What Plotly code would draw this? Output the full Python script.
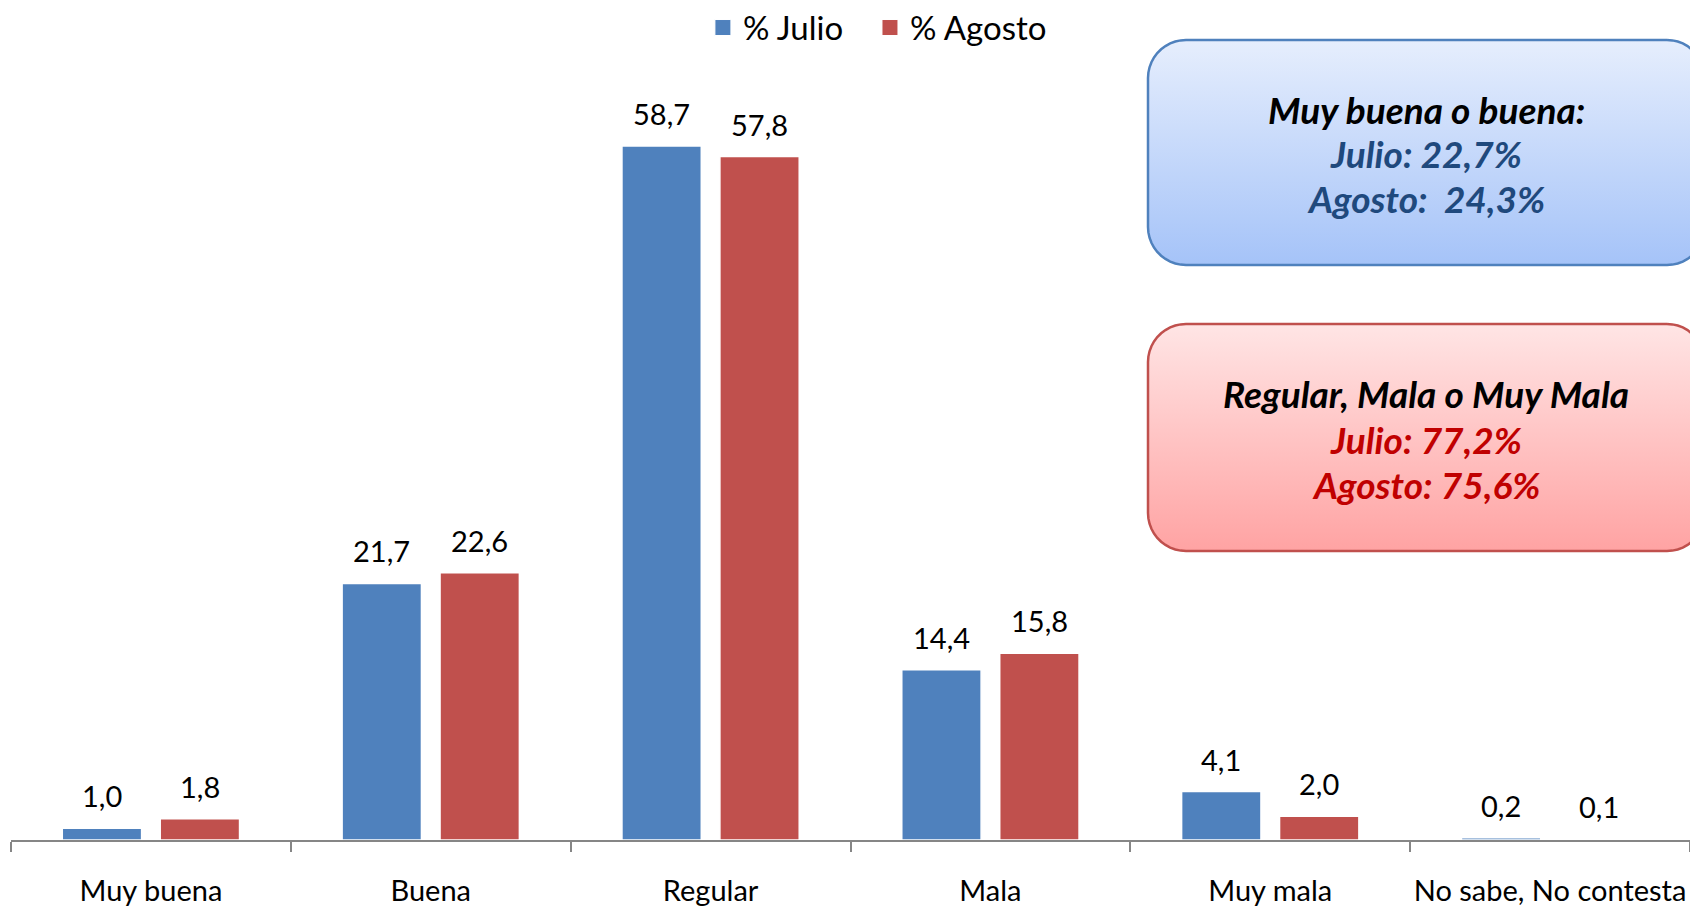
import plotly.graph_objects as go
import numpy as np

# ---------------- data ----------------
categories = ["Muy buena", "Buena", "Regular", "Mala", "Muy mala", "No sabe, No contesta"]
julio = [1.0, 21.7, 58.7, 14.4, 4.1, 0.2]
agosto = [1.8, 22.6, 57.8, 15.8, 2.0, 0.1]
series_names = ["% Julio", "% Agosto"]

box1_lines = ["Muy buena o buena:", "Julio: 22,7%", "Agosto:  24,3%"]
box2_lines = ["Regular, Mala o Muy Mala", "Julio: 77,2%", "Agosto: 75,6%"]

# ---------------- layout constants ----------------
W, H = 1690, 906
ML, MR, MT, MB = 11, 0, 30, 66
YMAX = 68.5
BARGAP = 0.30
GROUPGAP = 0.19
FONT = "Lato"
BLUE = "#4F81BD"
RED = "#C0504D"


def fmt(v):
    return f"{v:.1f}".replace(".", ",")


fig = go.Figure()
fig.add_bar(x=categories, y=julio, name=series_names[0], showlegend=False,
            marker=dict(color=BLUE, line=dict(color="white", width=1.5)))
fig.add_bar(x=categories, y=agosto, name=series_names[1], showlegend=False,
            marker=dict(color=RED, line=dict(color="white", width=1.5)))

# legend proxies (larger square symbols), one legend each for exact spacing
for nm, col, lg in zip(series_names, (BLUE, RED), ("legend", "legend2")):
    fig.add_trace(go.Scatter(x=[None], y=[None], xaxis="x2", yaxis="y2", mode="markers", name=nm,
                             marker=dict(symbol="square", size=18, color=col,
                                         line=dict(color="white", width=1)),
                             showlegend=True, legend=lg, hoverinfo="skip"))

# value labels above bars
cat_w = (W - ML - MR) / len(categories)
slot = cat_w * (1 - BARGAP) / 2
annotations = []
for vals, sgn in ((julio, -1), (agosto, 1)):
    for c, v in zip(categories, vals):
        annotations.append(dict(x=c, y=v, xref="x", yref="y", text=fmt(v),
                                showarrow=False, xshift=sgn * slot / 2, yshift=13,
                                yanchor="bottom", font=dict(family=FONT, size=29, color="black")))


# rounded boxes in pixel space (x2 / y2 axes)
def rounded(x0, y0, x1, y1, r, n=12):
    pts = []
    corners = [(x1 - r, y0 + r, -90, 0), (x1 - r, y1 - r, 0, 90),
               (x0 + r, y1 - r, 90, 180), (x0 + r, y0 + r, 180, 270)]
    for cx, cy, a0, a1 in corners:
        for a in np.linspace(np.radians(a0), np.radians(a1), n):
            pts.append((cx + r * np.cos(a), cy + r * np.sin(a)))
    pts.append(pts[0])
    xs = [p[0] for p in pts]
    ys = [H - p[1] for p in pts]
    return xs, ys


boxes = [
    (1148, 40, 1705, 265, "#A5C3F8", "#E6EEFD", BLUE, box1_lines, ["black", "#1F497D", "#1F497D"], [109, 153, 198]),
    (1148, 324, 1705, 551, "#FFA3A3", "#FFE5E5", RED, box2_lines, ["black", "#C00000", "#C00000"], [393, 439, 484]),
]
for x0, y0, x1, y1, cb, ct, border, lines, colors, ys in boxes:
    xs, yv = rounded(x0, y0, x1, y1, 38)
    fig.add_trace(go.Scatter(x=xs, y=yv, xaxis="x2", yaxis="y2", mode="lines", fill="toself",
                             fillgradient=dict(type="vertical", colorscale=[[0, cb], [1, ct]]),
                             line=dict(color=border, width=2.5), showlegend=False, hoverinfo="skip"))
    for txt, col, py in zip(lines, colors, ys):
        annotations.append(dict(x=1426, y=H - py, xref="x2", yref="y2", text=f"<b><i>{txt}</i></b>",
                                showarrow=False, font=dict(family=FONT, size=37, color=col),
                                xanchor="center", yanchor="middle"))

legend_common = dict(orientation="h", y=1.003, yanchor="middle", xanchor="left",
                     font=dict(family=FONT, size=33, color="black"), bgcolor="rgba(0,0,0,0)",
                     itemsizing="trace")

fig.update_layout(
    width=W, height=H,
    margin=dict(l=ML, r=MR, t=MT, b=MB, autoexpand=False),
    paper_bgcolor="white", plot_bgcolor="white",
    barmode="group", bargap=BARGAP, bargroupgap=GROUPGAP,
    font=dict(family=FONT, size=29, color="black"),
    showlegend=True,
    legend=dict(x=0.4121, **legend_common),
    legend2=dict(x=0.5116, **legend_common),
    xaxis=dict(showline=True, linecolor="#868686", linewidth=2, ticks="outside",
               tickson="boundaries", ticklen=10, tickcolor="#868686", tickwidth=2,
               tickangle=0, ticklabelstandoff=24, tickfont=dict(family=FONT, size=29, color="black"),
               showgrid=False, zeroline=False, fixedrange=True),
    yaxis=dict(range=[0, YMAX], visible=False, showgrid=False, zeroline=False),
    xaxis2=dict(overlaying="x", range=[ML, W - MR], visible=False, anchor="y2"),
    yaxis2=dict(overlaying="y", range=[MB, H - MT], visible=False, anchor="x2"),
    annotations=annotations,
)

fig.write_html("out.html", config={"displayModeBar": False},
               post_script="document.body.style.margin='0';document.body.style.overflow='hidden';")
